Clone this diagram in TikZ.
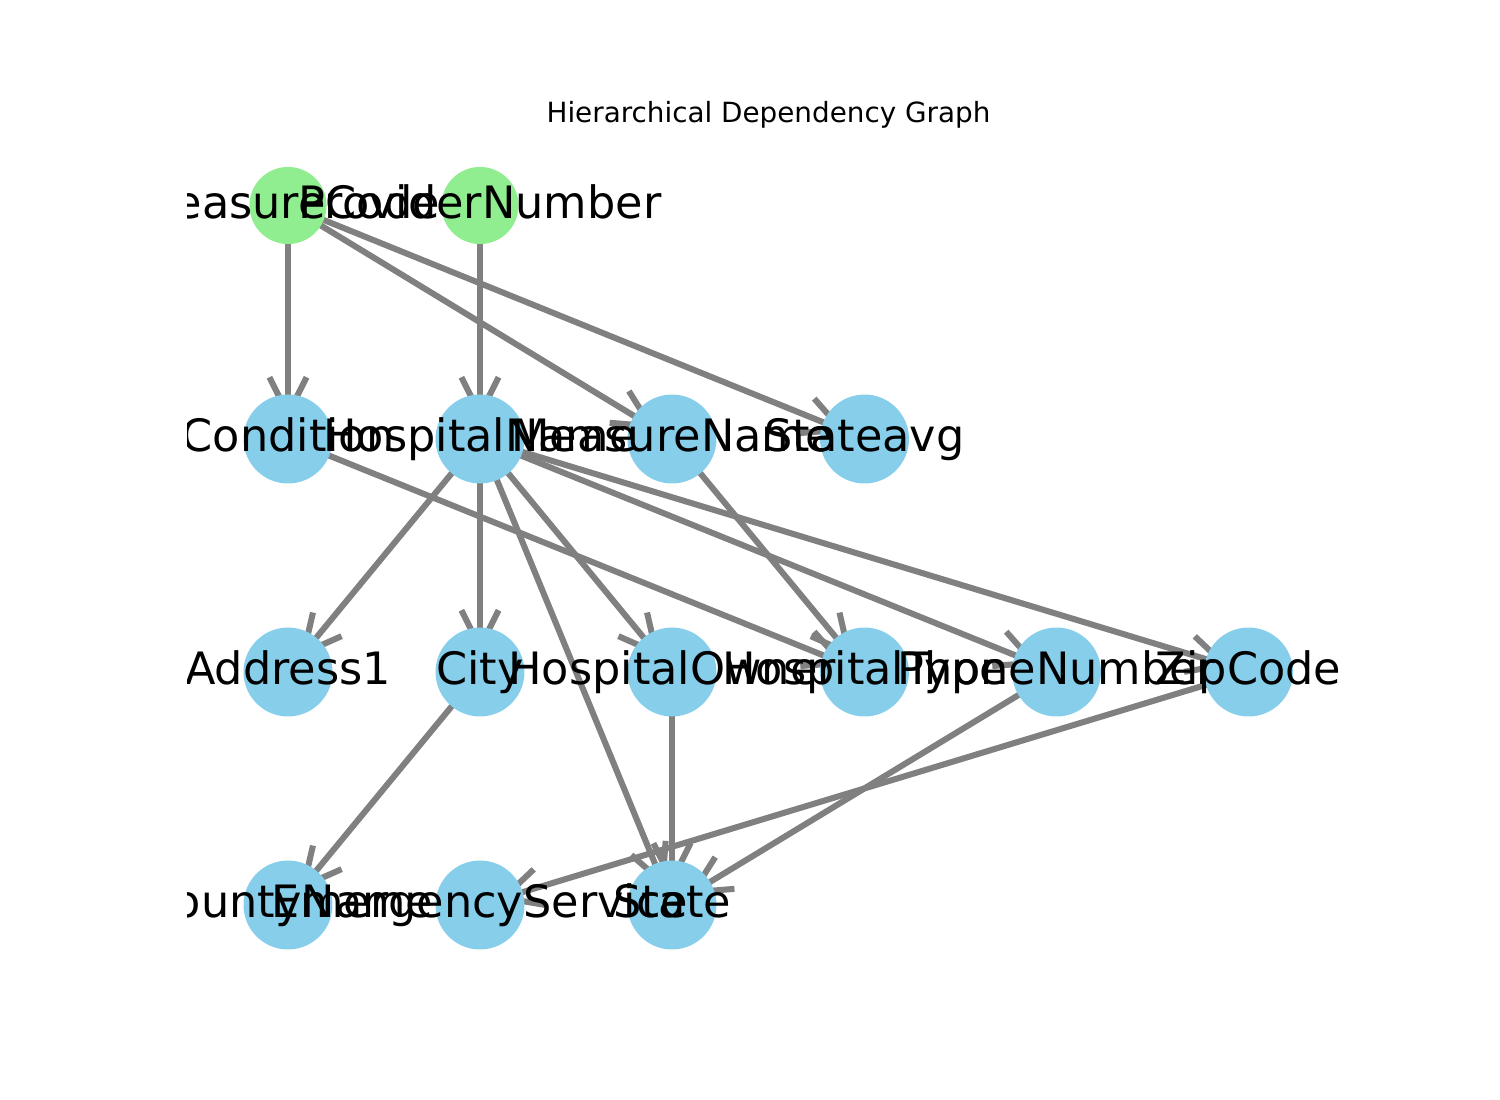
\documentclass[tikz,border=0pt]{standalone}
\usepackage{fontspec}
\setmainfont{DejaVu Sans}
\usetikzlibrary{arrows.meta}
\pgfdeclarelayer{bg}
\pgfsetlayers{bg,main}
\definecolor{skyblue}{HTML}{87CEEB}
\definecolor{lightgreen}{HTML}{90EE90}
\definecolor{edgegray}{HTML}{808080}
\tikzset{
  root/.style={circle,fill=lightgreen,inner sep=0pt,minimum size=37pt},
  attr/.style={circle,fill=skyblue,inner sep=0pt,minimum size=42.7pt},
  lbl/.style={anchor=base,yshift=-6.2pt,inner sep=0pt,font=\fontsize{21.4}{26}\selectfont},
  dep/.style={draw=edgegray,line width=2.9pt,shorten >=8.6pt,-{Straight Barb[length=17.8pt,width=17.8pt]}}
}
\begin{document}
\begin{tikzpicture}[x=0.48pt,y=-0.48pt]
  \useasboundingbox (0,0) rectangle (1500,1100);
  \node[anchor=base,font=\fontsize{13.35}{16}\selectfont] (title) at (768.5,123) {Hierarchical Dependency Graph};

  % nodes
  \node[root] (MeasureCode) at (288,205.5) {};
  \node[root] (ProviderNumber) at (480,205.5) {};
  \node[attr] (Condition) at (288,439) {};
  \node[attr] (HospitalName) at (480,439) {};
  \node[attr] (MeasureName) at (672,439) {};
  \node[attr] (Stateavg) at (864.5,439) {};
  \node[attr] (Address1) at (288,672) {};
  \node[attr] (City) at (480,672) {};
  \node[attr] (HospitalOwner) at (672,672) {};
  \node[attr] (HospitalType) at (864.5,672) {};
  \node[attr] (PhoneNumber) at (1056.5,672) {};
  \node[attr] (ZipCode) at (1248.5,672) {};
  \node[attr] (CountyName) at (288,905) {};
  \node[attr] (EmergencyService) at (480,905) {};
  \node[attr] (State) at (672,905) {};

  % edges
  \begin{pgfonlayer}{bg}
    \draw[dep] (MeasureCode.center) -- (Condition.center);
    \draw[dep] (MeasureCode.center) -- (MeasureName.center);
    \draw[dep] (MeasureCode.center) -- (Stateavg.center);
    \draw[dep] (ProviderNumber.center) -- (HospitalName.center);
    \draw[dep] (Condition.center) -- (HospitalType.center);
    \draw[dep] (HospitalName.center) -- (Address1.center);
    \draw[dep] (HospitalName.center) -- (City.center);
    \draw[dep] (HospitalName.center) -- (HospitalOwner.center);
    \draw[dep] (HospitalName.center) -- (State.center);
    \draw[dep] (HospitalName.center) -- (PhoneNumber.center);
    \draw[dep] (HospitalName.center) -- (ZipCode.center);
    \draw[dep] (MeasureName.center) -- (HospitalType.center);
    \draw[dep] (City.center) -- (CountyName.center);
    \draw[dep] (HospitalOwner.center) -- (State.center);
    \draw[dep] (PhoneNumber.center) -- (State.center);
    \draw[dep] (ZipCode.center) -- (EmergencyService.center);
  \end{pgfonlayer}

  % labels, clipped to the plot area
  \begin{scope}
    \clip (187.5,132) rectangle (1350,979);
    \node[lbl] (tMeasureCode) at (MeasureCode) {MeasureCode};
    \node[lbl] (tProviderNumber) at (ProviderNumber) {ProviderNumber};
    \node[lbl] (tCondition) at (Condition) {Condition};
    \node[lbl] (tHospitalName) at (HospitalName) {HospitalName};
    \node[lbl] (tMeasureName) at (MeasureName) {MeasureName};
    \node[lbl] (tStateavg) at (Stateavg) {Stateavg};
    \node[lbl] (tAddress1) at (Address1) {Address1};
    \node[lbl] (tCity) at (City) {City};
    \node[lbl] (tHospitalOwner) at (HospitalOwner) {HospitalOwner};
    \node[lbl] (tHospitalType) at (HospitalType) {HospitalType};
    \node[lbl] (tPhoneNumber) at (PhoneNumber) {PhoneNumber};
    \node[lbl] (tZipCode) at (ZipCode) {ZipCode};
    \node[lbl] (tCountyName) at (CountyName) {CountyName};
    \node[lbl] (tEmergencyService) at (EmergencyService) {EmergencyService};
    \node[lbl] (tState) at (State) {State};
  \end{scope}
\end{tikzpicture}
\end{document}
